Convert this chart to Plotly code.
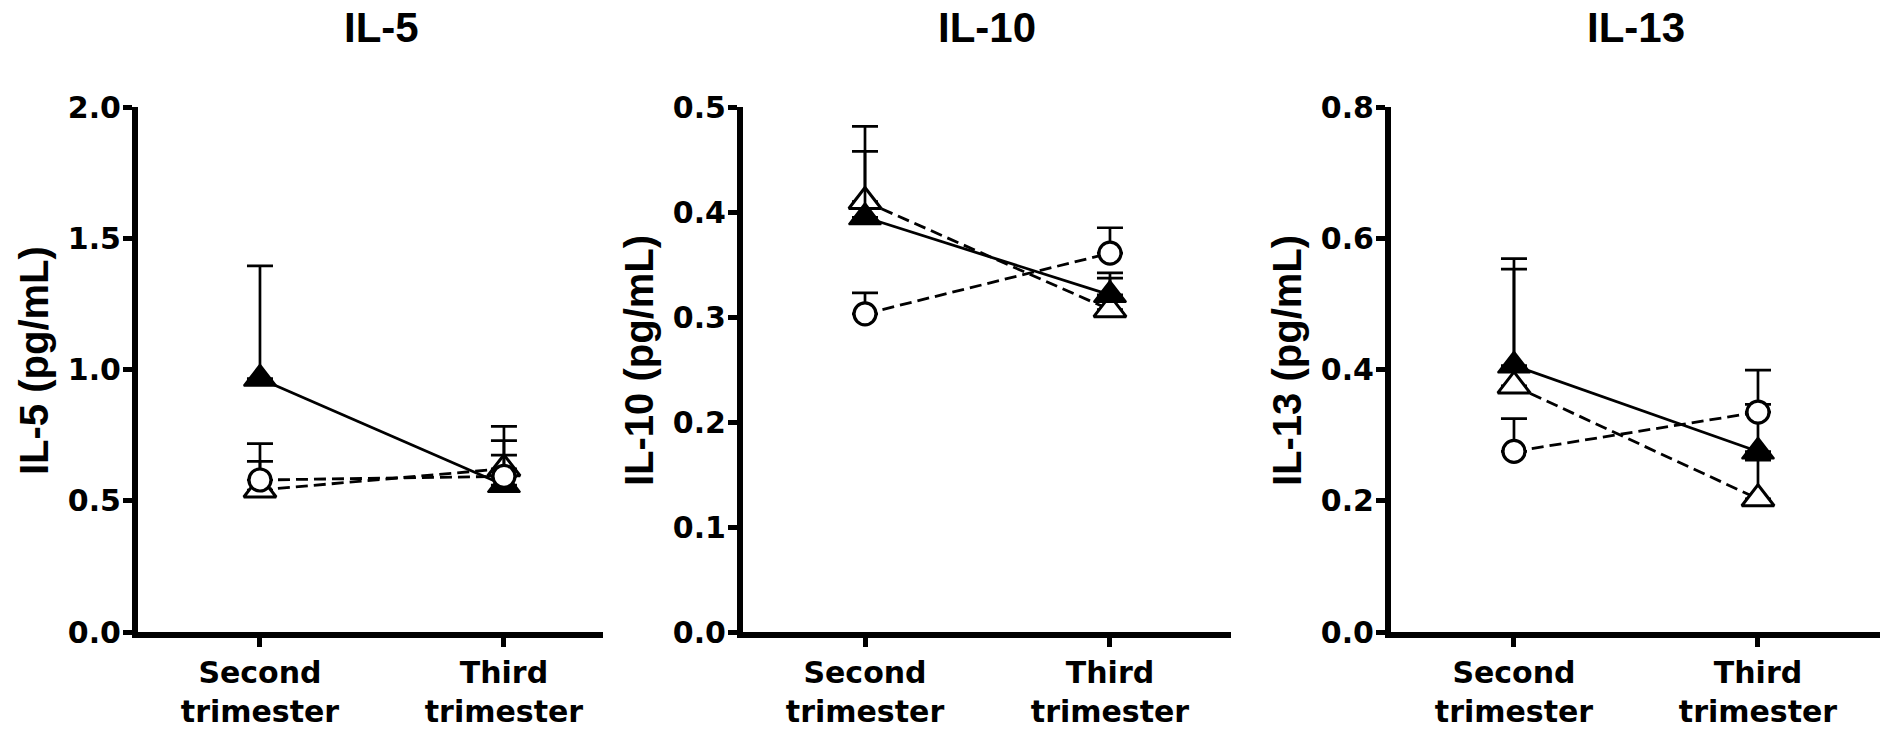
import plotly.graph_objects as go

W, H = 1883, 734

categories = ["Second<br>trimester", "Third<br>trimester"]
panel_titles = ["IL-5", "IL-10", "IL-13"]
y_titles = ["IL-5 (pg/mL)", "IL-10 (pg/mL)", "IL-13 (pg/mL)"]

# IL-5 (means and tops of upper error bars)
il5_filled = [0.965, 0.56]
il5_filled_top = [1.395, 0.674]
il5_open_tri = [0.541, 0.622]
il5_open_tri_top = [0.718, 0.783]
il5_circle = [0.579, 0.593]
il5_circle_top = [0.65, 0.729]

# IL-10
il10_filled = [0.395, 0.321]
il10_filled_top = [0.4577, 0.342]
il10_open_tri = [0.410, 0.307]
il10_open_tri_top = [0.4815, 0.337]
il10_circle = [0.303, 0.3608]
il10_circle_top = [0.323, 0.385]

# IL-13
il13_filled = [0.406, 0.275]
il13_filled_top = [0.569, 0.347]
il13_open_tri = [0.375, 0.203]
il13_open_tri_top = [0.553, 0.262]
il13_circle = [0.2752, 0.335]
il13_circle_top = [0.325, 0.399]

y_ranges = [[0, 2.0], [0, 0.5], [0, 0.8]]
y_dticks = [0.5, 0.1, 0.2]

panels = [
    (il5_filled, il5_filled_top, il5_open_tri, il5_open_tri_top, il5_circle, il5_circle_top),
    (il10_filled, il10_filled_top, il10_open_tri, il10_open_tri_top, il10_circle, il10_circle_top),
    (il13_filled, il13_filled_top, il13_open_tri, il13_open_tri_top, il13_circle, il13_circle_top),
]

# layout geometry (pixels)
x_px = [(138, 603), (743, 1231), (1391, 1880)]
x_ranges = [[-0.5, 1.406], [-0.498, 1.494], [-0.504, 1.5]]
y_top_px, y_bot_px = 107, 632

def px2x(p):
    return p / W

def px2y(p):
    return 1 - p / H

fig = go.Figure()
xs = [0, 1]

def err(means, tops):
    return [t - m for m, t in zip(means, tops)]

for i, (f, ft, o, ot, c, ct) in enumerate(panels):
    xa = "x" if i == 0 else f"x{i+1}"
    ya = "y" if i == 0 else f"y{i+1}"
    dash = "12px,6px"
    # open triangle, dashed
    fig.add_trace(go.Scatter(
        x=xs, y=o, xaxis=xa, yaxis=ya, mode="lines+markers",
        line=dict(color="black", width=2.8, dash=dash),
        marker=dict(symbol="triangle-up", size=28, color="white",
                    line=dict(color="black", width=3)),
        error_y=dict(type="data", symmetric=False, array=err(o, ot),
                     arrayminus=[0, 0], color="black", thickness=2.7, width=13),
        showlegend=False))
    # filled triangle, solid
    fig.add_trace(go.Scatter(
        x=xs, y=f, xaxis=xa, yaxis=ya, mode="lines+markers",
        line=dict(color="black", width=2.8),
        marker=dict(symbol="triangle-up", size=28, color="black",
                    line=dict(color="black", width=2)),
        error_y=dict(type="data", symmetric=False, array=err(f, ft),
                     arrayminus=[0, 0], color="black", thickness=2.7, width=13),
        showlegend=False))
    # open circle, dashed
    fig.add_trace(go.Scatter(
        x=xs, y=c, xaxis=xa, yaxis=ya, mode="lines+markers",
        line=dict(color="black", width=2.8, dash=dash),
        marker=dict(symbol="circle", size=22, color="white",
                    line=dict(color="black", width=3.2)),
        error_y=dict(type="data", symmetric=False, array=err(c, ct),
                     arrayminus=[0, 0], color="black", thickness=2.7, width=13),
        showlegend=False))

tick_font = dict(family="DejaVu Sans", size=30, color="black", weight="bold")
layout = dict(
    width=W, height=H,
    margin=dict(l=0, r=0, t=0, b=0),
    paper_bgcolor="white", plot_bgcolor="white",
    showlegend=False,
)
annotations = []
for i in range(3):
    sfx = "" if i == 0 else str(i + 1)
    x0, x1 = x_px[i]
    layout["xaxis" + sfx] = dict(
        domain=[px2x(x0), px2x(x1)], range=x_ranges[i],
        anchor="y" + sfx, tickmode="array", tickvals=xs, ticktext=categories,
        showline=True, linecolor="black", linewidth=6,
        ticks="outside", ticklen=9, tickwidth=5, tickcolor="black",
        showgrid=False, zeroline=False, tickfont=tick_font, automargin=False,
    )
    layout["yaxis" + sfx] = dict(
        domain=[px2y(y_bot_px), px2y(y_top_px)], range=y_ranges[i],
        anchor="x" + sfx, dtick=y_dticks[i], tick0=0, tickformat=".1f",
        showline=True, linecolor="black", linewidth=6,
        ticks="outside", ticklen=9, tickwidth=5, tickcolor="black",
        showgrid=False, zeroline=False, tickfont=tick_font, automargin=False,
        ticklabelstandoff=-4,
    )
    annotations.append(dict(
        text=panel_titles[i], xref="x" + sfx, yref="paper",
        x=0.5, y=px2y(27), xanchor="center", yanchor="middle",
        showarrow=False,
        font=dict(family="Liberation Sans", size=42, color="black", weight="bold"),
    ))
    annotations.append(dict(
        text=y_titles[i], xref="paper", yref="paper",
        x=px2x(x0 - 104), y=px2y(361), xanchor="center", yanchor="middle",
        textangle=-90, showarrow=False,
        font=dict(family="Liberation Sans", size=40, color="black", weight="bold"),
    ))
layout["annotations"] = annotations
fig.update_layout(**layout)

fig.write_html("out.html")
